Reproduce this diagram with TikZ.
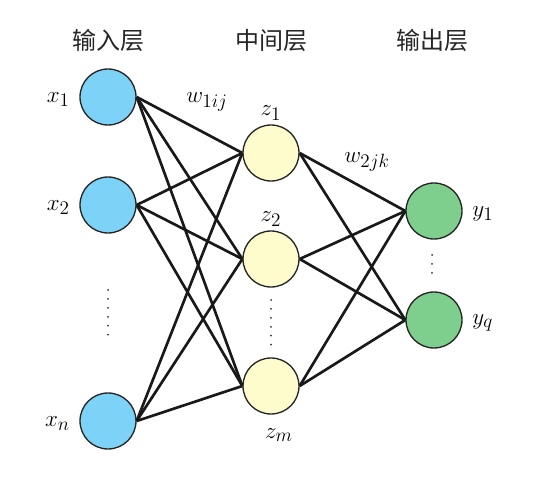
\documentclass[tikz,border=0pt]{standalone}
\usepackage{fontspec}
\newfontfamily\cjk{Noto Sans CJK SC}
\usepackage{tikz}
\usetikzlibrary{positioning}
\definecolor{inblue}{RGB}{125,211,247}
\definecolor{hidyellow}{RGB}{254,251,204}
\definecolor{outgreen}{RGB}{126,206,141}

\begin{document}
\begin{tikzpicture}[x=0.75pt, y=-0.75pt,
        neuron/.style={circle, draw=black!85, line width=1pt, minimum size=42pt, inner sep=0pt},
        innode/.style={neuron, fill=inblue},
        hidnode/.style={neuron, fill=hidyellow},
        outnode/.style={neuron, fill=outgreen},
        header/.style={font=\cjk\fontsize{18}{22}\selectfont, text=black!85},
        lbl/.style={font=\fontsize{19}{23}\selectfont, inner sep=1pt},
        link/.style={line width=2pt, black!90},
        dotline/.style={line width=1.5pt, black!80, dash pattern=on 0pt off 6.7pt, line cap=round}
    ]
        \useasboundingbox (0,0) rectangle (539,477);

        % layer headers
        \node[header] (hin) at (108,40) {输入层};
        \node[header] (hhid) at (271,40) {中间层};
        \node[header] (hout) at (432,40) {输出层};

        % neurons
        \node[innode] (x1) at (108,97) {};
        \node[innode] (x2) at (108,205) {};
        \node[innode] (xn) at (108,421) {};
        \node[hidnode] (z1) at (271,153) {};
        \node[hidnode] (z2) at (271,259) {};
        \node[hidnode] (zm) at (271,386) {};
        \node[outnode] (y1) at (434,211) {};
        \node[outnode] (yq) at (434,320) {};

        % labels
        \node[lbl, left=6pt of x1, yshift=-2pt] (lx1) {$x_1$};
        \node[lbl, left=6pt of x2, yshift=-2pt] (lx2) {$x_2$};
        \node[lbl, left=6pt of xn, yshift=-2pt] (lxn) {$x_n$};
        \node[lbl, above=2pt of z1] (lz1) {$z_1$};
        \node[lbl, above=2pt of z2] (lz2) {$z_2$};
        \node[lbl, below=9pt of zm, xshift=6pt] (lzm) {$z_m$};
        \node[lbl, right=6pt of y1, yshift=-2pt] (ly1) {$y_1$};
        \node[lbl, right=6pt of yq, yshift=-2pt] (lyq) {$y_q$};
        \node[lbl] (w1) at (207,102) {$w_{1ij}$};
        \node[lbl] (w2) at (367,162) {$w_{2jk}$};

        % dots
        \draw[dotline] (108,290) -- (108,336);
        \draw[dotline] (271,300) -- (271,346);
        \draw[dotline] (432,255) -- (432,275);

        % connections
        \foreach \a in {x1,x2,xn}
            \foreach \b in {z1,z2,zm}
                \draw[link] (\a.east) -- (\b.west);
        \foreach \a in {z1,z2,zm}
            \foreach \b in {y1,yq}
                \draw[link] (\a.east) -- (\b.west);
    \end{tikzpicture}
\end{document}
